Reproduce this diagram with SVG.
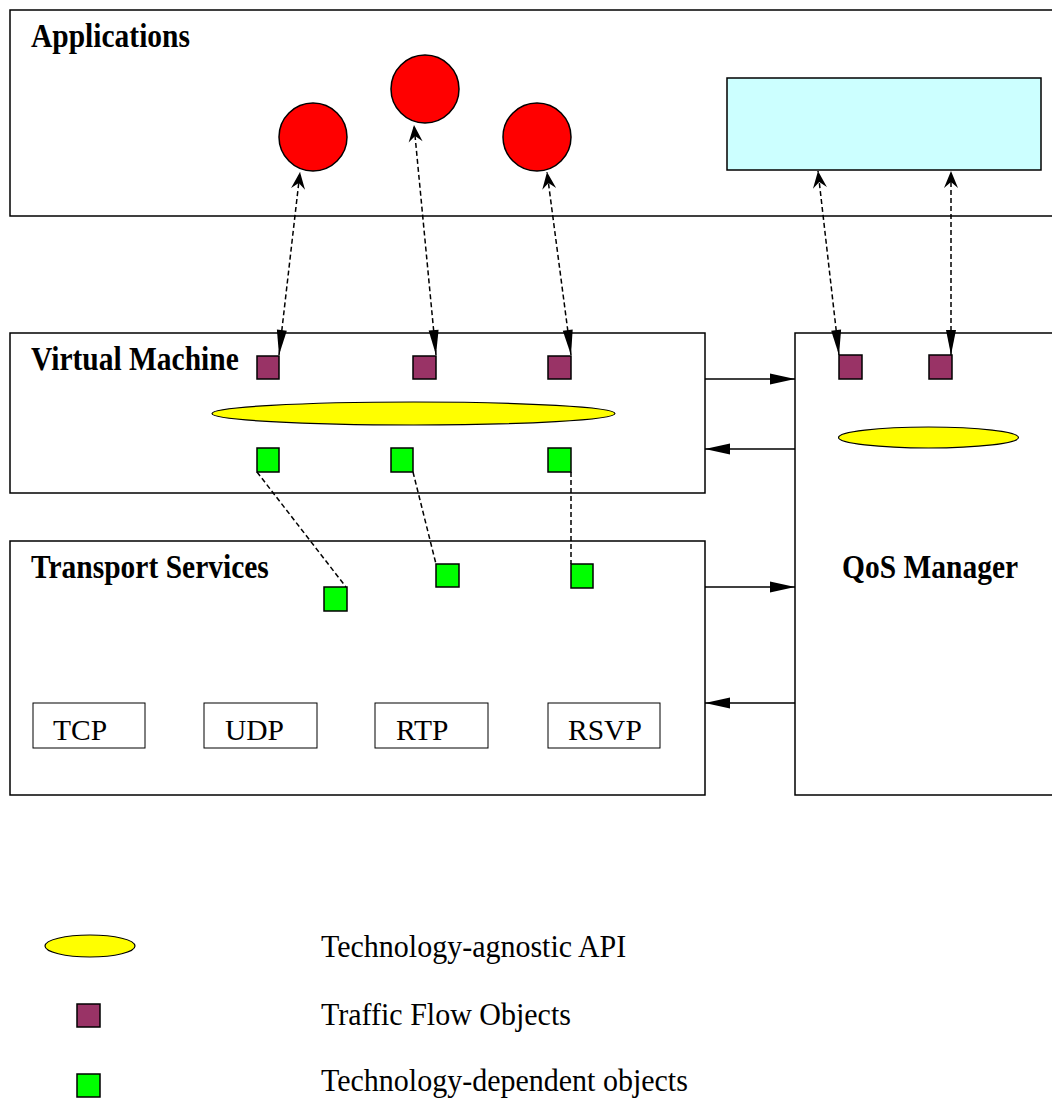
<svg xmlns="http://www.w3.org/2000/svg" width="1052" height="1099" viewBox="0 0 1052 1099">
<style>
.box{fill:none;stroke:#000;stroke-width:1.5}
.proto{fill:#fff;stroke:#000;stroke-width:1}
.tfo{fill:#993366;stroke:#000;stroke-width:1.5}
.tdo{fill:#00ff00;stroke:#000;stroke-width:1.5}
.api{fill:#ffff00;stroke:#000;stroke-width:1.2}
.app{fill:#ff0000;stroke:#000;stroke-width:1.5}
.title{font-family:"Liberation Serif","Times New Roman",serif;font-weight:bold;font-size:29.5px;fill:#000}
.lbl{font-family:"Liberation Serif","Times New Roman",serif;font-size:29.5px;fill:#000}
.leg{font-family:"Liberation Serif","Times New Roman",serif;font-size:30px;fill:#000}
.dash{fill:none;stroke:#000;stroke-width:1.5;stroke-dasharray:5,3}
.solid{fill:none;stroke:#000;stroke-width:1.5}
</style>
<defs>
<marker id="tri" markerUnits="userSpaceOnUse" orient="auto-start-reverse" refX="0" refY="0" markerWidth="30" markerHeight="14" viewBox="-26 -7 30 14" overflow="visible">
<path d="M0,0 L-25,-5 L-25,5 z" fill="#000"/>
</marker>
<marker id="stealth" markerUnits="userSpaceOnUse" orient="auto" refX="0" refY="0" markerWidth="20" markerHeight="16" viewBox="-18 -8 20 16" overflow="visible">
<path d="M0,0 L-17,-7 L-11,0 L-17,7 z" fill="#000"/>
</marker>
<marker id="solidhead" markerUnits="userSpaceOnUse" orient="auto" refX="0" refY="0" markerWidth="28" markerHeight="12" viewBox="-26 -6 28 12" overflow="visible">
<path d="M0,0 L-25,-5.5 L-25,5.5 z" fill="#000"/>
</marker>
</defs>

<g id="applications">
<rect class="box" x="10" y="10" width="1100" height="206"/>
<text class="title" transform="translate(31,47) scale(1,1.12)">Applications</text>
</g>
<g id="app1"><circle class="app" cx="313" cy="137" r="34"/></g>
<g id="app2"><circle class="app" cx="425" cy="89" r="34"/></g>
<g id="app3"><circle class="app" cx="537" cy="137" r="34"/></g>
<g id="qos-app"><rect x="727" y="78" width="314" height="92" fill="#ccffff" stroke="#000" stroke-width="1.5"/></g>

<g id="virtual-machine">
<rect class="box" x="10" y="333" width="695" height="160"/>
<text class="title" transform="translate(31,370) scale(1,1.12)">Virtual Machine</text>
<ellipse class="api" cx="413.5" cy="413.5" rx="201.5" ry="11.5"/>
</g>
<g id="vm-tfo1"><rect class="tfo" x="257" y="356" width="22" height="23"/></g>
<g id="vm-tfo2"><rect class="tfo" x="413" y="356" width="23" height="23"/></g>
<g id="vm-tfo3"><rect class="tfo" x="548" y="356" width="23" height="23"/></g>
<g id="vm-tdo1"><rect class="tdo" x="257" y="448" width="22" height="24"/></g>
<g id="vm-tdo2"><rect class="tdo" x="391" y="448" width="22" height="24"/></g>
<g id="vm-tdo3"><rect class="tdo" x="548" y="448" width="23" height="24"/></g>

<g id="transport-services">
<rect class="box" x="10" y="541" width="695" height="254"/>
<text class="title" transform="translate(31,578) scale(1,1.12)">Transport Services</text>
</g>
<g id="ts-tdo1"><rect class="tdo" x="324" y="587" width="23" height="24"/></g>
<g id="ts-tdo2"><rect class="tdo" x="436" y="564" width="23" height="23"/></g>
<g id="ts-tdo3"><rect class="tdo" x="571" y="564" width="22" height="24"/></g>
<g id="tcp"><rect class="proto" x="33" y="703" width="112" height="45"/><text class="lbl" x="53" y="740">TCP</text></g>
<g id="udp"><rect class="proto" x="204" y="703" width="113" height="45"/><text class="lbl" x="225" y="740">UDP</text></g>
<g id="rtp"><rect class="proto" x="375" y="703" width="113" height="45"/><text class="lbl" x="396" y="740">RTP</text></g>
<g id="rsvp"><rect class="proto" x="548" y="703" width="112" height="45"/><text class="lbl" x="568" y="740">RSVP</text></g>

<g id="qos-manager">
<rect class="box" x="795" y="333" width="320" height="462"/>
<text class="title" transform="translate(842,578) scale(1,1.12)">QoS Manager</text>
<ellipse class="api" cx="928.5" cy="437.5" rx="90" ry="10.5"/>
</g>
<g id="qos-tfo1"><rect class="tfo" x="839" y="355" width="23" height="24"/></g>
<g id="qos-tfo2"><rect class="tfo" x="929" y="355" width="23" height="24"/></g>

<g id="connectors">
<path class="dash" d="M279,355 L300,172" marker-start="url(#tri)" marker-end="url(#stealth)"/>
<path class="dash" d="M436,355 L414,125" marker-start="url(#tri)" marker-end="url(#stealth)"/>
<path class="dash" d="M571,355 L547,172" marker-start="url(#tri)" marker-end="url(#stealth)"/>
<path class="dash" d="M839,355 L818,171" marker-start="url(#tri)" marker-end="url(#stealth)"/>
<path class="dash" d="M951,355 L951,171" marker-start="url(#tri)" marker-end="url(#stealth)"/>
<path class="dash" d="M257,472 L346,587"/>
<path class="dash" d="M413,472 L436,564"/>
<path class="dash" d="M571,472 L571,564"/>
<path class="solid" d="M705,379 L795,379" marker-end="url(#solidhead)"/>
<path class="solid" d="M795,449 L705,449" marker-end="url(#solidhead)"/>
<path class="solid" d="M705,587 L795,587" marker-end="url(#solidhead)"/>
<path class="solid" d="M795,703 L705,703" marker-end="url(#solidhead)"/>
</g>

<g id="legend">
<ellipse class="api" cx="90" cy="946" rx="45" ry="11"/>
<rect class="tfo" x="77" y="1004" width="23" height="23"/>
<rect class="tdo" x="77" y="1074" width="23" height="23"/>
<text class="leg" transform="translate(321,957) scale(1,1.05)">Technology-agnostic API</text>
<text class="leg" transform="translate(321,1025) scale(1,1.05)">Traffic Flow Objects</text>
<text class="leg" transform="translate(321,1091) scale(1,1.05)">Technology-dependent objects</text>
</g>
</svg>
